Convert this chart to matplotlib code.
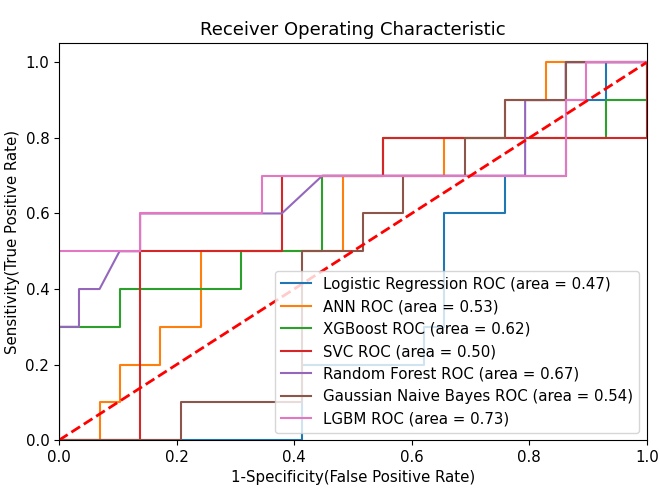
import matplotlib
matplotlib.use("Agg")
import matplotlib.pyplot as plt

# === ROC 曲线数据 ===
model_names = ['Logistic Regression', 'ANN', 'XGBoost', 'SVC',
               'Random Forest', 'Gaussian Naive Bayes', 'LGBM']
auc_values = [0.47, 0.53, 0.62, 0.50, 0.67, 0.54, 0.73]

fpr_lr = [0, .414, .414, .621, .621, .655, .655, .759, .759, .862, .862, .931, .931, 1]
tpr_lr = [0, 0, .2, .2, .3, .3, .6, .6, .7, .7, .9, .9, 1, 1]

fpr_ann = [0, .069, .069, .103, .103, .172, .172, .241, .241, .483, .483, .655, .655, .759, .759, .828, .828, 1]
tpr_ann = [0, 0, .1, .1, .2, .2, .3, .3, .5, .5, .7, .7, .8, .8, .9, .9, 1, 1]

fpr_xgb = [0, 0, .103, .103, .310, .310, .448, .448, .552, .552, .931, .931, 1, 1]
tpr_xgb = [0, .3, .3, .4, .4, .5, .5, .7, .7, .8, .8, .9, .9, 1]

fpr_svc = [0, .138, .138, .379, .379, .552, .552, 1, 1]
tpr_svc = [0, 0, .5, .5, .7, .7, .8, .8, 1]

fpr_rf = [0, 0, .034, .034, .069, .103, .138, .138, .379, .448, .793, .793, .862, .862, 1]
tpr_rf = [0, .3, .3, .4, .4, .5, .5, .6, .6, .7, .7, .9, .9, 1, 1]

fpr_gnb = [0, .207, .207, .414, .414, .517, .517, .586, .586, .690, .690, .759, .759, .862, .862, 1]
tpr_gnb = [0, 0, .1, .1, .5, .5, .6, .6, .7, .7, .8, .8, .9, .9, 1, 1]

fpr_lgbm = [0, 0, .138, .138, .345, .345, .862, .862, .897, .897, 1]
tpr_lgbm = [0, .5, .5, .6, .6, .7, .7, .9, .9, 1, 1]

fpr_list = [fpr_lr, fpr_ann, fpr_xgb, fpr_svc, fpr_rf, fpr_gnb, fpr_lgbm]
tpr_list = [tpr_lr, tpr_ann, tpr_xgb, tpr_svc, tpr_rf, tpr_gnb, tpr_lgbm]

# === 绘图 ===
plt.rcParams['font.size'] = 10.8
plt.figure(figsize=(6.6, 4.88), dpi=100)
plt.subplots_adjust(left=0.0894, right=0.980, bottom=0.098, top=0.911)

for name, auc, fpr, tpr in zip(model_names, auc_values, fpr_list, tpr_list):
    plt.plot(fpr, tpr, label='%s ROC (area = %0.2f)' % (name, auc))

plt.plot([0, 1], [0, 1], 'r--', linewidth=2)
plt.xlim([0.0, 1.0])
plt.ylim([0.0, 1.05])
plt.xlabel('1-Specificity(False Positive Rate)')
plt.ylabel('Sensitivity(True Positive Rate)')
plt.title('Receiver Operating Characteristic', fontsize=13)
plt.legend(loc='lower right')

plt.savefig('out.png', dpi=100)
plt.close()
